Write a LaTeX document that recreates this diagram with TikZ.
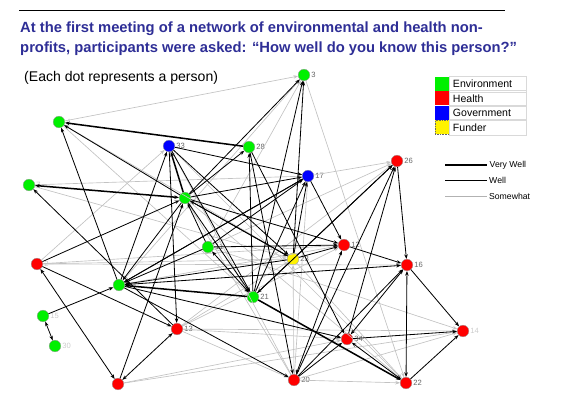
\documentclass[tikz,border=0pt]{standalone}
\usepackage{fontspec}
\setmainfont{Liberation Sans}
\usepackage{xcolor}
\usetikzlibrary{arrows.meta,positioning}
\definecolor{titleblue}{RGB}{46,46,150}
\definecolor{envgreen}{RGB}{0,240,0}

\begin{document}
\begin{tikzpicture}[x=0.03cm,y=-0.03cm,>={Stealth[length=4pt,width=3pt]},
  person/.style={circle,draw=black!40,line width=0.3pt,minimum size=0.35cm,inner sep=0pt},
  env/.style={person,fill=envgreen},
  hlt/.style={person,fill=red},
  gov/.style={person,fill=blue},
  fnd/.style={person,fill=yellow},
  tag/.style={font=\fontsize{6.5}{7}\selectfont,text=black!60,inner sep=1pt},
  ftag/.style={tag,text=black!20},
  sw/.style={->,draw=black!24,line width=0.55pt},
  wl/.style={->,draw=black,line width=0.7pt},
  vw/.style={->,draw=black,line width=1.3pt},
  legbox/.style={minimum size=0.42cm,inner sep=0pt},
  legcell/.style={draw=black!15,minimum height=0.42cm,text width=2.1cm,inner xsep=3pt,
    font=\fontsize{9}{10}\selectfont},
  legtxt/.style={font=\fontsize{7.4}{8}\selectfont,inner sep=1.5pt}]
  \useasboundingbox (0,0) rectangle (561,400);

  % heading
  \coordinate (rl) at (19,10);
  \coordinate (rr) at (505,10);
  \draw[line width=0.8pt] (rl) -- (rr);
  \node[anchor=north west,align=left,text=titleblue,inner sep=0pt,
    font=\fontsize{12.6}{17}\selectfont\bfseries] (title) at (20,22)
    {At the first meeting of a network of environmental and health non-\\
     profits, participants were asked: “How well do you know this person?”};
  \node[anchor=west,inner sep=0pt,font=\fontsize{12}{13}\selectfont] (note) at (24,78)
    {(Each dot represents a person)};

  % legend
  \node[legbox,fill=envgreen] (kenv) at (442,84) {};
  \node[legbox,fill=red,below=0pt of kenv] (khlt) {};
  \node[legbox,fill=blue,below=0pt of khlt] (kgov) {};
  \node[legbox,fill=yellow,draw=black!60,densely dotted,below=0pt of kgov] (kfnd) {};
  \node[legcell,right=0pt of kenv] (tenv) {Environment};
  \node[legcell,right=0pt of khlt] (thlt) {Health};
  \node[legcell,right=0pt of kgov] (tgov) {Government};
  \node[legcell,right=0pt of kfnd] (tfnd) {Funder};

  \coordinate (lv1) at (445,165);
  \coordinate (lv2) at (487,165);
  \coordinate (lw1) at (445,180);
  \coordinate (lw2) at (487,180);
  \coordinate (ls1) at (445,196);
  \coordinate (ls2) at (487,196);
  \draw[line width=1.6pt] (lv1) -- (lv2) node[right,legtxt] {Very Well};
  \draw[line width=0.8pt] (lw1) -- (lw2) node[right,legtxt] {Well};
  \draw[line width=0.6pt,black!30] (ls1) -- (ls2) node[right,legtxt,text=black] {Somewhat};

  % people
  \node[env,label={[tag]right:3}] (p3) at (304,75) {};
  \node[env,label={[tag]right:28}] (p28) at (249,147) {};
  \node[gov,label={[tag]right:33}] (p33) at (169,146) {};
  \node[gov,label={[tag]right:17}] (p17) at (308,176) {};
  \node[env,label={[ftag]right:4}] (p4) at (59,122) {};
  \node[env,label={[ftag]right:7}] (p7) at (29,185) {};
  \node[env,label={[ftag]right:5}] (p5) at (185,198) {};
  \node[hlt,label={[tag]right:26}] (p26) at (397,161) {};
  \node[hlt,label={[tag]right:12}] (p12) at (344,245) {};
  \node[fnd,label={[tag]right:23}] (p23) at (293,259) {};
  \node[env,label={[tag]right:11}] (p11) at (208,247) {};
  \node[hlt,label={[tag]right:16}] (p16) at (407,265) {};
  \node[env,label={[tag]right:21}] (p21) at (253,297) {};
  \node[hlt,label={[ftag]right:2}] (p2) at (37,264) {};
  \node[env,label={[ftag]right:10}] (p10) at (119,285) {};
  \node[env,label={[ftag]right:15}] (p15) at (43,316) {};
  \node[env,label={[ftag]right:30}] (p30) at (55,346) {};
  \node[hlt,label={[tag]right:13}] (p13) at (177,329) {};
  \node[hlt] (p9) at (118,384) {};
  \node[hlt,label={[tag]right:20}] (p20) at (294,380) {};
  \node[hlt,label={[tag]right:34}] (p34) at (347,339) {};
  \node[hlt,label={[ftag]right:14}] (p14) at (463,331) {};
  \node[hlt,label={[tag]right:22}] (p22) at (406,383) {};

  % somewhat
  \draw[sw] (p4) -- (p3);
  \draw[sw] (p7) -- (p17);
  \draw[sw] (p2) -- (p33);
  \draw[sw] (p3) -- (p22);
  \draw[sw] (p17) -- (p26);
  \draw[sw] (p11) -- (p26);
  \draw[sw] (p13) -- (p26);
  \draw[sw] (p4) -- (p21);
  \draw[sw] (p4) -- (p23);
  \draw[sw] (p7) -- (p23);
  \draw[sw] (p2) -- (p12);
  \draw[sw] (p2) -- (p16);
  \draw[sw] (p2) -- (p23);
  \draw[sw] (p13) -- (p12);
  \draw[sw] (p13) -- (p34);
  \draw[sw] (p13) -- (p14);
  \draw[sw] (p13) -- (p23);
  \draw[sw] (p13) -- (p20);
  \draw[sw] (p9) -- (p14);
  \draw[sw] (p9) -- (p34);
  \draw[sw] (p20) -- (p23);
  \draw[sw] (p20) -- (p22);
  \draw[sw] (p20) -- (p14);
  \draw[sw] (p20) -- (p33);
  \draw[sw] (p20) -- (p5);
  \draw[sw] (p10) -- (p3);
  \draw[sw] (p11) -- (p3);
  \draw[sw] (p33) -- (p22);
  \draw[sw] (p5) -- (p22);
  \draw[sw] (p11) -- (p14);
  \draw[sw] (p23) -- (p22);
  \draw[sw] (p17) -- (p20);
  \draw[sw] (p10) -- (p12);

  % well
  \draw[wl] (p5) -- (p4);
  \draw[wl] (p10) -- (p4);
  \draw[wl] (p13) -- (p7);
  \draw[wl] (p33) -- (p17);
  \draw[wl] (p10) -- (p33);
  \draw[wl] (p5) -- (p28);
  \draw[wl] (p21) -- (p28);
  \draw[wl] (p5) -- (p3);
  \draw[wl] (p21) -- (p3);
  \draw[wl] (p23) -- (p3);
  \draw[wl] (p5) -- (p17);
  \draw[wl] (p10) -- (p17);
  \draw[wl] (p11) -- (p17);
  \draw[wl] (p23) -- (p17);
  \draw[wl] (p21) -- (p17);
  \draw[wl] (p17) -- (p12);
  \draw[wl] (p23) -- (p26);
  \draw[wl] (p20) -- (p26);
  \draw[wl] (p21) -- (p26);
  \draw[wl] (p34) -- (p26);
  \draw[wl] (p26) -- (p16);
  \draw[wl] (p12) -- (p16);
  \draw[wl] (p16) -- (p14);
  \draw[wl,<->] (p16) -- (p22);
  \draw[wl,<->] (p16) -- (p34);
  \draw[wl] (p20) -- (p16);
  \draw[wl] (p10) -- (p16);
  \draw[wl] (p34) -- (p14);
  \draw[wl] (p22) -- (p14);
  \draw[wl,<->] (p34) -- (p22);
  \draw[wl] (p2) -- (p13);
  \draw[wl,<->] (p2) -- (p9);
  \draw[wl,<->] (p15) -- (p30);
  \draw[wl] (p15) -- (p10);
  \draw[wl,<->] (p13) -- (p9);
  \draw[wl] (p9) -- (p5);
  \draw[wl] (p33) -- (p13);
  \draw[wl] (p2) -- (p5);
  \draw[wl] (p11) -- (p12);
  \draw[wl,<->] (p11) -- (p21);
  \draw[wl] (p11) -- (p10);
  \draw[wl] (p11) -- (p5);
  \draw[wl] (p23) -- (p12);
  \draw[wl] (p23) -- (p5);
  \draw[wl] (p23) -- (p10);
  \draw[wl] (p23) -- (p21);
  \draw[wl] (p33) -- (p23);
  \draw[wl,<->] (p20) -- (p12);
  \draw[wl] (p20) -- (p34);
  \draw[wl] (p10) -- (p34);
  \draw[wl] (p10) -- (p20);
  \draw[wl] (p33) -- (p21);
  \draw[wl] (p5) -- (p21);
  \draw[wl] (p5) -- (p12);
  \draw[wl] (p5) -- (p23);
  \draw[wl] (p5) -- (p10);
  \draw[wl] (p17) -- (p10);
  \draw[wl] (p28) -- (p20);
  \draw[wl] (p28) -- (p34);

  % very well
  \draw[vw] (p28) -- (p4);
  \draw[vw,<->] (p7) -- (p5);
  \draw[vw] (p5) -- (p33);
  \draw[vw] (p21) -- (p22);
  \draw[vw] (p21) -- (p10);
\end{tikzpicture}
\end{document}
